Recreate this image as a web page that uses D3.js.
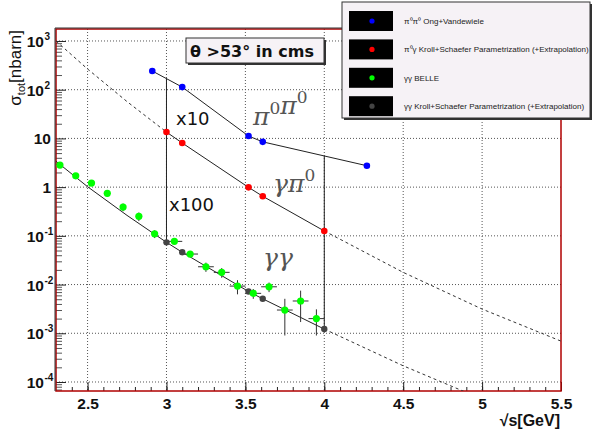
<!DOCTYPE html>
<html>
<head>
<meta charset="utf-8">
<script src="https://cdn.jsdelivr.net/npm/d3@7"></script>
<style>
  body { margin: 0; background: #fff; }
  svg { display: block; }
</style>
</head>
<body>
<div id="chart"></div>
<script>
// pi0 pi0 (Ong+Vandewiele), already x100 scaled in the picture
const pipiX = [2.91, 3.10, 3.52, 3.61, 4.27];
const pipiY = [242, 113, 11.2, 8.5, 2.75];

// gamma pi0 Kroll+Schaefer points (x10)
const gpiX = [3.0, 3.1, 3.52, 3.61, 4.0];
const gpiY = [13.5, 8.05, 0.99, 0.65, 0.126];

// gamma gamma Kroll+Schaefer points
const ggX = [3.0, 3.1, 3.52, 3.61, 4.0];
const ggY = [0.0736, 0.046, 0.0072, 0.0051, 0.00122];

// gamma gamma BELLE data
const belleX    = [2.325, 2.425, 2.525, 2.625, 2.725, 2.825, 2.925, 3.05, 3.15, 3.25, 3.35, 3.45, 3.55, 3.65, 3.75, 3.85, 3.95];
const belleY    = [2.84, 1.71, 1.21, 0.746, 0.39, 0.251, 0.110, 0.077, 0.0423, 0.0232, 0.0178, 0.0093, 0.0066, 0.0090, 0.0030, 0.0046, 0.0020];
const belleXErr = [0, 0, 0, 0, 0, 0, 0, 0.05, 0.05, 0.05, 0.05, 0.05, 0.05, 0.05, 0.05, 0.05, 0.05];
const belleYErr = [0.35, 0.22, 0.15, 0.1, 0.07, 0.05, 0.02, 0.005, 0.005, 0.005, 0.004, 0.003, 0.0015, 0.002, 0.0021, 0.0029, 0.0011];

// parametrization curves
const gpiSolidX = [3.0, 3.1, 3.52, 3.61, 4.0];
const gpiSolidY = [13.5, 8.05, 0.99, 0.65, 0.126];
const gpiDashLoX = [2.3, 2.5, 2.75, 3.0];
const gpiDashLoY = [1000, 266, 57, 13.5];
const gpiDashHiX = [4.0, 4.5, 5.0, 5.5];
const gpiDashHiY = [0.126, 0.0178, 0.00314, 0.00069];

const ggSolidX = [2.3, 2.5, 2.75, 3.0, 3.1, 3.52, 3.61, 4.0];
const ggSolidY = [3.4, 1.02, 0.263, 0.0736, 0.046, 0.0072, 0.0051, 0.00122];
const ggDashX = [4.0, 4.5, 4.88, 5.0];
const ggDashY = [0.00122, 0.000215, 0.000065, 0.000045];

// vertical connectors at sqrt(s) = 3 and 4
const markX = [3.0, 4.0];

// axis ticks
const xMajor = [2.5, 3, 3.5, 4, 4.5, 5, 5.5];
const xMinor = d3.range(2.4, 5.51, 0.1);
const yDecades = [-4, -3, -2, -1, 0, 1, 2, 3];
const yLabels = [
  {b: "10", e: "-4"}, {b: "10", e: "-3"}, {b: "10", e: "-2"}, {b: "10", e: "-1"},
  {b: "1", e: ""}, {b: "10", e: ""}, {b: "10", e: "2"}, {b: "10", e: "3"}
];

const legendLabels = [
  "π⁰π⁰ Ong+Vandewiele",
  "π⁰γ Kroll+Schaefer Parametrization (+Extrapolation)",
  "γγ BELLE",
  "γγ Kroll+Schaefer Parametrization (+Extrapolation)"
];
const legendColors = ["#0000ff", "#ff0000", "#00ff00", "#444444"];

const width = 592, height = 430;
const frame = {left: 56, top: 29, right: 561, bottom: 391};

const svg = d3.select("#chart").append("svg")
              .attr("width", width)
              .attr("height", height)
              .style("font-family", "'Liberation Sans', Arial, sans-serif");

const x = d3.scaleLinear().domain([2.3, 5.5]).range([frame.left, frame.right]);
const y = d3.scaleLog().domain([Math.pow(10, -4.185), Math.pow(10, 3.246)]).range([frame.bottom, frame.top]);

svg.append("defs").append("clipPath").attr("id", "plotclip")
   .append("rect")
   .attr("x", frame.left).attr("y", frame.top)
   .attr("width", frame.right - frame.left).attr("height", frame.bottom - frame.top);

// grid (dotted)
const grid = svg.append("g").attr("stroke", "#555").attr("stroke-width", 1).attr("stroke-dasharray", "1,2");
grid.selectAll(".gx").data(xMajor.filter(d => d < 5.5)).enter().append("line")
    .attr("x1", d => x(d)).attr("x2", d => x(d))
    .attr("y1", frame.top).attr("y2", frame.bottom);
grid.selectAll(".gy").data(yDecades).enter().append("line")
    .attr("x1", frame.left).attr("x2", frame.right)
    .attr("y1", d => y(Math.pow(10, d))).attr("y2", d => y(Math.pow(10, d)));

// x axis ticks (pointing up into the frame)
svg.append("g")
   .attr("transform", "translate(0," + frame.bottom + ")")
   .call(d3.axisBottom(x).tickValues(xMinor).tickSize(-4).tickFormat(""))
   .call(g => g.select(".domain").remove())
   .call(g => g.selectAll("line").attr("stroke", "#222"));
svg.append("g")
   .attr("transform", "translate(0," + frame.bottom + ")")
   .call(d3.axisBottom(x).tickValues(xMajor).tickSize(-9).tickPadding(7).tickFormat(d3.format("")))
   .call(g => g.select(".domain").remove())
   .call(g => g.selectAll("line").attr("stroke", "#222"))
   .call(g => g.selectAll("text")
               .attr("font-size", 15.5).attr("font-weight", "bold")
               .attr("font-family", "'Liberation Sans', Arial, sans-serif")
               .attr("fill", "#111"));

// y axis ticks (log minor ticks)
const yMinor = [];
yDecades.forEach(function (d) {
    for (let k = 2; k <= 9; k++) {
        const v = k * Math.pow(10, d);
        if (v <= y.domain()[1]) yMinor.push(v);
    }
});
yMinor.push(...[7, 8, 9].map(k => k * 1e-5));
svg.append("g")
   .attr("transform", "translate(" + frame.left + ",0)")
   .call(d3.axisLeft(y).tickValues(yMinor).tickSize(-6).tickFormat(""))
   .call(g => g.select(".domain").remove())
   .call(g => g.selectAll("line").attr("stroke", "#555"));
svg.append("g")
   .attr("transform", "translate(" + frame.left + ",0)")
   .call(d3.axisLeft(y).tickValues(yDecades.map(d => Math.pow(10, d))).tickSize(-10).tickFormat(""))
   .call(g => g.select(".domain").remove())
   .call(g => g.selectAll("line").attr("stroke", "#222"));

// y tick labels with superscripts
const yl = svg.append("g").selectAll("text").data(yDecades).enter().append("text")
              .attr("x", function (d, i) { return yLabels[i].e === "" ? 51 : 44; })
              .attr("y", d => y(Math.pow(10, d)) + 6)
              .attr("text-anchor", "end")
              .attr("font-size", 15.5).attr("font-weight", "bold").attr("fill", "#111");
yl.append("tspan").text((d, i) => yLabels[i].b);
svg.append("g").selectAll("text").data(yDecades).enter()
   .filter((d, i) => yLabels[i].e !== "")
   .append("text")
   .attr("x", 44.5)
   .attr("y", d => y(Math.pow(10, d)) - 1)
   .attr("font-size", 10).attr("font-weight", "bold").attr("fill", "#111")
   .text(function (d) { return yLabels[yDecades.indexOf(d)].e; });

// frame
svg.append("rect")
   .attr("x", frame.left).attr("y", frame.top)
   .attr("width", frame.right - frame.left).attr("height", frame.bottom - frame.top)
   .attr("fill", "none").attr("stroke", "#b00000").attr("stroke-width", 1.5);
svg.append("path")
   .attr("d", "M" + (frame.left - 1) + "," + frame.bottom + "V" + (frame.top - 1) + "H" + frame.right)
   .attr("fill", "none").attr("stroke", "#333").attr("stroke-width", 1);

// curves
const plot = svg.append("g").attr("clip-path", "url(#plotclip)");
const line = d3.line().x(d => x(d[0])).y(d => y(d[1]));
function zipXY(xs, ys) { return xs.map((v, i) => [v, ys[i]]); }

function drawCurve(xs, ys, dashed) {
    plot.append("path")
        .datum(zipXY(xs, ys))
        .attr("d", line)
        .attr("fill", "none")
        .attr("stroke", dashed ? "#333" : "#222")
        .attr("stroke-width", 1)
        .attr("stroke-dasharray", dashed ? "3,3" : null);
}
drawCurve(gpiDashLoX, gpiDashLoY, true);
drawCurve(gpiSolidX, gpiSolidY, false);
drawCurve(gpiDashHiX, gpiDashHiY, true);
drawCurve(ggSolidX, ggSolidY, false);
drawCurve(ggDashX, ggDashY, true);
drawCurve(pipiX, pipiY, false);

// vertical connectors from the pi0pi0 line down to the gamma gamma points
function logInterp(xs, ys, x0) {
    for (let i = 0; i < xs.length - 1; i++) {
        if (x0 >= xs[i] && x0 <= xs[i + 1]) {
            const t = (x0 - xs[i]) / (xs[i + 1] - xs[i]);
            return Math.pow(10, Math.log10(ys[i]) + t * (Math.log10(ys[i + 1]) - Math.log10(ys[i])));
        }
    }
    return ys[0];
}
plot.selectAll(".mark").data(markX).enter().append("line")
    .attr("x1", d => x(d)).attr("x2", d => x(d))
    .attr("y1", d => y(logInterp(pipiX, pipiY, d)))
    .attr("y2", d => y(logInterp(ggX, ggY, d)))
    .attr("stroke", "#222").attr("stroke-width", 1);

// BELLE error bars
const eb = plot.append("g").attr("stroke", "#333").attr("stroke-width", 1);
belleX.forEach(function (bx, i) {
    const by = belleY[i];
    eb.append("line")
      .attr("x1", x(bx)).attr("x2", x(bx))
      .attr("y1", y(by + belleYErr[i])).attr("y2", y(Math.max(by - belleYErr[i], 1e-6)));
    if (belleXErr[i] > 0) {
        eb.append("line")
          .attr("x1", x(bx - belleXErr[i])).attr("x2", x(bx + belleXErr[i]))
          .attr("y1", y(by)).attr("y2", y(by));
    }
});

// markers
function drawDots(xs, ys, color, r) {
    plot.append("g").selectAll("circle").data(zipXY(xs, ys)).enter().append("circle")
        .attr("cx", d => x(d[0])).attr("cy", d => y(d[1]))
        .attr("r", r).attr("fill", color);
}
drawDots(ggX, ggY, "#444444", 3.2);
drawDots(belleX, belleY, "#00ff00", 3.6);
drawDots(gpiX, gpiY, "#ff0000", 3.3);
drawDots(pipiX, pipiY, "#0000ff", 3.3);

// scale annotations
svg.append("text").attr("x", 176).attr("y", 125)
   .attr("font-family", "'DejaVu Sans', sans-serif").attr("font-size", 18).attr("fill", "#111")
   .text("x10");
svg.append("text").attr("x", 169).attr("y", 211)
   .attr("font-family", "'DejaVu Sans', sans-serif").attr("font-size", 18).attr("fill", "#111")
   .text("x100");

// process labels in math style
function mathLabel(px, py, parts) {
    const t = svg.append("text").attr("x", px).attr("y", py)
                 .attr("font-family", "'DejaVu Serif', 'Liberation Serif', serif")
                 .attr("font-style", "italic").attr("font-size", 25).attr("fill", "#555");
    parts.forEach(function (p) {
        if (p.sup) {
            t.append("tspan").attr("dy", -11).attr("font-size", 17).attr("font-style", "normal").text(p.s);
            t.append("tspan").attr("dy", 11).text("");
        } else {
            t.append("tspan").text(p.s);
        }
    });
}
mathLabel(253, 125, [{s: "π"}, {s: "0", sup: true}, {s: "π"}, {s: "0", sup: true}]);
mathLabel(273, 192, [{s: "γπ"}, {s: "0", sup: true}]);
mathLabel(263, 266, [{s: "γγ"}]);

// title box
svg.append("rect").attr("x", 188).attr("y", 40).attr("width", 138).attr("height", 25).attr("fill", "#333");
svg.append("rect").attr("x", 186).attr("y", 38).attr("width", 138).attr("height", 25)
   .attr("fill", "#f6f2f6").attr("stroke", "#333").attr("stroke-width", 1);
svg.append("text").attr("x", 190).attr("y", 57)
   .attr("font-family", "'DejaVu Sans', sans-serif")
   .attr("font-size", 16).attr("font-weight", "bold").attr("fill", "#111")
   .text("θ >53° in cms");

// legend
svg.append("rect").attr("x", 344).attr("y", 4).attr("width", 248).attr("height", 116).attr("fill", "#333");
svg.append("rect").attr("x", 342).attr("y", 2).attr("width", 248).attr("height", 116)
   .attr("fill", "#f6f2f6").attr("stroke", "#333").attr("stroke-width", 1);
const leg = svg.append("g").selectAll("g").data(legendLabels).enter().append("g")
               .attr("transform", (d, i) => "translate(0," + (21 + i * 28.4) + ")");
leg.append("rect").attr("x", 349).attr("y", -10).attr("width", 44).attr("height", 20).attr("fill", "#000");
leg.append("circle").attr("cx", 372).attr("cy", 0).attr("r", 2.6).attr("fill", (d, i) => legendColors[i]);
leg.append("text").attr("x", 404).attr("y", 3)
   .attr("font-size", 8).attr("fill", "#222")
   .text(d => d);

// axis titles
const yt = svg.append("text")
              .attr("transform", "translate(21,30) rotate(-90)")
              .attr("text-anchor", "end")
              .attr("font-size", 17).attr("fill", "#111");
yt.append("tspan").text("σ");
yt.append("tspan").attr("font-size", 11).attr("dy", 4).text("tot");
yt.append("tspan").attr("dy", -4).text("[nbarn]");

svg.append("text").attr("x", 560).attr("y", 426)
   .attr("text-anchor", "end")
   .attr("font-size", 16).attr("font-weight", "bold").attr("fill", "#111")
   .text("√s[GeV]");
</script>
</body>
</html>
